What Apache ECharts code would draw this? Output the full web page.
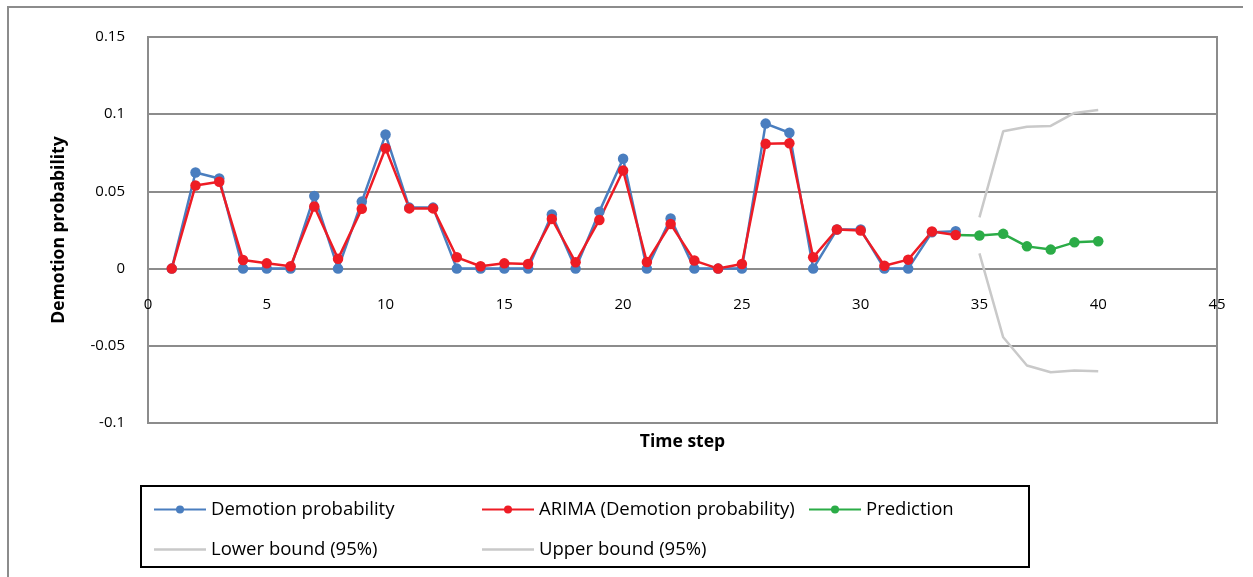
<!DOCTYPE html>
<html lang="en">
<head>
<meta charset="UTF-8">
<title>Demotion probability</title>
<script src="https://cdn.jsdelivr.net/npm/echarts@6/dist/echarts.min.js"></script>
<style>
  html, body { margin: 0; padding: 0; background: #fff; }
</style>
</head>
<body>
<div id="main" style="width:1253px;height:577px;"></div>
<script type="text/javascript">
// time steps
var steps = [1, 2, 3, 4, 5, 6, 7, 8, 9, 10, 11, 12, 13, 14, 15, 16, 17,
             18, 19, 20, 21, 22, 23, 24, 25, 26, 27, 28, 29, 30, 31, 32, 33, 34];
var demotion = [0, 0.0622, 0.0583, 0, 0, 0, 0.047, 0, 0.0434, 0.0868, 0.0395, 0.0395,
                0, 0, 0, 0, 0.035, 0, 0.0369, 0.0712, 0, 0.0324, 0, 0, 0,
                0.0939, 0.088, 0, 0.0253, 0.0253, 0, 0, 0.0235, 0.0242];
var arima = [0, 0.0538, 0.0563, 0.0056, 0.0034, 0.0015, 0.0402, 0.0063, 0.0387, 0.0779,
             0.039, 0.039, 0.0073, 0.0015, 0.0034, 0.003, 0.0322, 0.0041, 0.0315, 0.0635,
             0.0043, 0.0289, 0.0052, 0, 0.003, 0.0808, 0.0812, 0.0073, 0.0253, 0.0246,
             0.0019, 0.0058, 0.024, 0.0218];
// forecast part
var predSteps = [34, 35, 36, 37, 38, 39, 40];
var prediction = [0.0218, 0.0214, 0.0225, 0.0144, 0.0123, 0.017, 0.0177];
var boundSteps = [35, 36, 37, 38, 39, 40];
var lowerBound = [0.0099, -0.0445, -0.0628, -0.0671, -0.066, -0.0665];
var upperBound = [0.0332, 0.0889, 0.0919, 0.0924, 0.1008, 0.1027];

var yMin = -0.1, yMax = 0.15;
var gridH = 386;

function pairs(xs, ys) {
    return xs.map(function (x, i) { return [x, ys[i]]; });
}

var predData = pairs(predSteps, prediction).map(function (p, i) {
    // first point only joins the line to the ARIMA fit
    return i === 0 ? { value: p, symbol: 'none' } : p;
});

var font = 'Open Sans';
var gridGray = '#8c8c8c';
// plain line icon for the bound series (corner dots keep the box size)
var plainLine = 'path://M0,0 L0.01,0 Z M0,3.8 L52,3.8 L52,6.2 L0,6.2 Z M0,10 L0.01,10 Z';

var myChart = echarts.init(document.getElementById('main'));

function lineSeries(name, data, color, marker) {
    return {
        name: name,
        type: 'line',
        data: data,
        symbol: marker ? 'circle' : 'none',
        symbolSize: 10.5,
        showSymbol: marker,
        lineStyle: { color: color, width: 2.5 },
        itemStyle: { color: color },
        animation: false
    };
}

function legendCol(left, names) {
    return {
        orient: 'vertical',
        left: left,
        top: 495,
        itemGap: 21,
        itemWidth: 52,
        itemHeight: 10,
        data: names,
        selectedMode: false,
        textStyle: { fontFamily: font, fontSize: 18.5, color: '#000' }
    };
}

myChart.setOption({
    animation: false,
    grid: {
        left: 148, top: 37, width: 1069, height: gridH,
        outerBoundsMode: 'none',
        containLabel: false,
        show: true, borderColor: gridGray, borderWidth: 2
    },
    legend: [
        legendCol(148, ['Demotion probability', { name: 'Lower bound (95%)', icon: plainLine }]),
        legendCol(476, ['ARIMA (Demotion probability)', { name: 'Upper bound (95%)', icon: plainLine }]),
        legendCol(803, ['Prediction'])
    ],
    xAxis: {
        type: 'value',
        min: 0, max: 45, interval: 5,
        position: 'bottom',
        // x axis crosses the y axis at 0
        offset: -gridH * (0 - yMin) / (yMax - yMin),
        name: 'Time step',
        nameLocation: 'middle',
        nameGap: 164,
        nameTextStyle: { fontFamily: font, fontSize: 17.5, fontWeight: 'bold', color: '#000' },
        axisLine: { show: true, onZero: false, lineStyle: { color: gridGray, width: 2 } },
        axisTick: { show: false },
        splitLine: { show: false },
        axisLabel: { margin: 29, fontFamily: font, fontSize: 15, color: '#000' }
    },
    yAxis: {
        type: 'value',
        min: yMin, max: yMax, interval: 0.05,
        name: 'Demotion probability',
        nameLocation: 'middle',
        nameGap: 80,
        nameTextStyle: { fontFamily: font, fontSize: 17.5, fontWeight: 'bold', color: '#000' },
        axisLine: { show: true, onZero: false, lineStyle: { color: gridGray, width: 2 } },
        axisTick: { show: false },
        splitLine: { lineStyle: { color: gridGray, width: 2 } },
        axisLabel: { margin: 23, fontFamily: font, fontSize: 15, color: '#000' }
    },
    graphic: [
        {   // chart area frame (top and left edges visible)
            type: 'polyline',
            shape: { points: [[8, 580], [8, 7], [1243, 7]] },
            style: { fill: null, stroke: gridGray, lineWidth: 2 }
        },
        {   // legend box
            type: 'rect',
            shape: { x: 141, y: 486, width: 888, height: 81 },
            style: { fill: null, stroke: '#000', lineWidth: 2 },
            z: -1
        }
    ],
    series: [
        lineSeries('Demotion probability', pairs(steps, demotion), '#4a7ebf', true),
        lineSeries('ARIMA (Demotion probability)', pairs(steps, arima), '#ee1c25', true),
        lineSeries('Prediction', predData, '#2bac47', true),
        lineSeries('Lower bound (95%)', pairs(boundSteps, lowerBound), '#c9c9c9', false),
        lineSeries('Upper bound (95%)', pairs(boundSteps, upperBound), '#c9c9c9', false)
    ]
});
</script>
</body>
</html>
